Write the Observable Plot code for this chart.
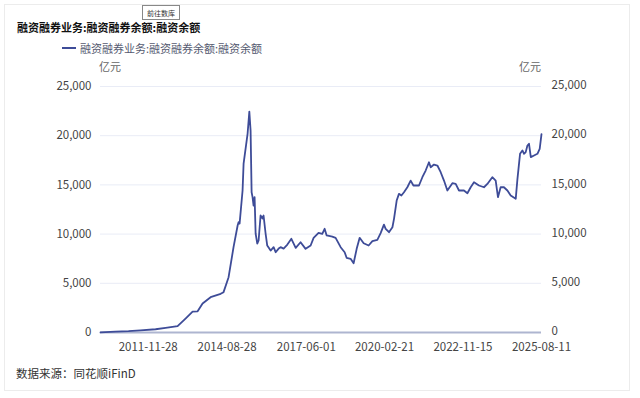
<!DOCTYPE html>
<html>
<head>
<meta charset="utf-8">
<script src="https://cdn.jsdelivr.net/npm/d3@7"></script>
<script src="https://cdn.jsdelivr.net/npm/@observablehq/plot@0.6"></script>
<style>
  html, body { margin: 0; padding: 0; background: #fff; }
  body { width: 640px; height: 398px; position: relative; overflow: hidden;
         font-family: "Noto Sans CJK SC", "Noto Sans", sans-serif; }
  .abs { position: absolute; white-space: nowrap; }
  #frame { position: absolute; left: 4px; top: 4px; width: 626px; height: 387px; border: 1px solid #ececec; box-sizing: border-box; }
  #btn { left: 142px; top: 5px; width: 38px; height: 15px; border: 1px solid #888; font-size: 7px; line-height: 14px; text-align: center; color: #333; box-sizing: border-box; background: #fff; }
  #title { left: 17px; top: 19px; font-size: 11px; font-weight: bold; color: #111; }
  #legend { left: 62px; top: 40px; font-size: 11px; color: #555a70; display: flex; align-items: center; }
  #legend .sw { display: inline-block; width: 14px; height: 2px; background: #3e4c98; margin-right: 4px; }
  .unit { top: 58px; font-size: 11px; color: #666; }
  #caption { left: 16px; top: 365px; font-size: 11.5px; color: #333; }
  #chart { position: absolute; left: 0; top: 70px; }
</style>
</head>
<body>
<div id="frame"></div>
<div id="btn" class="abs">前往数库</div>
<div id="title" class="abs">融资融券业务:融资融券余额:融资余额</div>
<div id="legend" class="abs"><span class="sw"></span>融资融券业务:融资融券余额:融资余额</div>
<div class="abs unit" style="left:99px;">亿元</div>
<div class="abs unit" style="left:519px;">亿元</div>
<div id="chart"></div>
<div id="caption" class="abs">数据来源：同花顺iFinD</div>
<script>
const dates = [
  "2010-03-31","2010-10-08","2011-03-23","2011-08-22","2012-03-01","2012-07-06","2012-12-06",
  "2013-03-17","2013-06-15","2013-08-18","2013-10-20","2014-01-30","2014-06-07","2014-07-14",
  "2014-09-16","2014-11-18","2015-01-09","2015-01-21","2015-02-03","2015-03-13","2015-03-26",
  "2015-05-16","2015-06-07","2015-06-23","2015-07-06","2015-07-18","2015-07-31","2015-08-13",
  "2015-08-26","2015-09-16","2015-10-03","2015-10-28","2015-11-22","2015-12-05","2015-12-31",
  "2016-01-21","2016-03-04","2016-04-11","2016-05-07","2016-06-14","2016-07-09","2016-08-16",
  "2016-10-03","2016-11-23","2017-01-17","2017-03-20","2017-05-23","2017-07-26","2017-09-02",
  "2017-11-04","2017-12-21","2018-01-20","2018-02-15","2018-04-28","2018-06-09","2018-08-12",
  "2018-10-02","2018-10-27","2018-12-17","2019-01-24","2019-03-04","2019-04-11","2019-06-01",
  "2019-08-03","2019-09-20","2019-11-22","2020-01-03","2020-02-14","2020-03-07","2020-04-18",
  "2020-06-01","2020-06-21","2020-07-25","2020-08-23","2020-09-23","2020-10-26","2020-12-08",
  "2021-01-19","2021-02-23","2021-05-05","2021-06-17","2021-07-29","2021-09-09","2021-10-01",
  "2021-11-12","2021-12-25","2022-02-05","2022-03-19","2022-05-01","2022-07-04","2022-08-15",
  "2022-09-26","2022-11-28","2023-01-11","2023-02-22","2023-04-05","2023-06-07","2023-08-10",
  "2023-09-22","2023-11-24","2024-01-06","2024-02-04","2024-03-09","2024-04-20","2024-06-03",
  "2024-07-15","2024-09-17","2024-10-09","2024-11-11","2024-12-11","2025-01-01","2025-01-22",
  "2025-02-13","2025-03-05","2025-03-28","2025-05-08","2025-06-20","2025-07-19","2025-08-11"
];
const values = [
  5, 80, 130, 220, 330, 470, 650,
  1420, 2130, 2150, 2950, 3590, 3930, 4100,
  5620, 8670, 10870, 11200, 11070, 14430, 17170,
  20220, 22450, 20520, 14250, 13750, 12900, 13750,
  10060, 9040, 9350, 11890, 11580, 11890, 10060,
  8840, 8330, 8670, 8160, 8530, 8670, 8530,
  8940, 9520, 8600, 9170, 8500, 8840, 9620,
  10130, 10030, 10540, 9860, 9750, 9620, 8670,
  8160, 7590, 7490, 7040, 8500, 9620, 9070,
  8840, 9280, 9420, 10100, 10970, 10540, 10190,
  10700, 11550, 13410, 14090, 13920, 14250, 14760,
  15440, 14940, 14940, 15780, 16460, 17300, 16790,
  17070, 16970, 16290, 15440, 14430, 15170, 15100,
  14430, 14430, 14150, 14760, 15270, 14940, 14760,
  15100, 15780, 15440, 13750, 14760, 14760, 14430,
  13920, 13580, 15610, 18160, 18500, 18160, 18330,
  19000, 19180, 17820, 17990, 18160, 18670, 20150
];
const xTickLabels = ["2011-11-28","2014-08-28","2017-06-01","2020-02-21","2022-11-15","2025-08-11"];
const yTicks = [0, 5000, 10000, 15000, 20000, 25000];
const xDomain = ["2010-03-31", "2025-08-11"];

const parse = d3.utcParse("%Y-%m-%d");
const data = dates.map((d, i) => ({date: parse(d), value: values[i]}));
const fmtDate = d3.utcFormat("%Y-%m-%d");
const fmtNum = d3.format(",");

const chart = Plot.plot({
  width: 640,
  height: 290,
  marginLeft: 100,
  marginRight: 99,
  marginTop: 16,
  marginBottom: 28,
  style: {fontFamily: "'Noto Sans CJK SC', 'Noto Sans', sans-serif", fontSize: "11.5px", color: "#444", background: "transparent"},
  x: {type: "utc", domain: xDomain.map(parse), ticks: xTickLabels.map(parse), tickFormat: fmtDate, tickSize: 0, tickPadding: 10, label: null},
  y: {domain: [0, 25000], ticks: yTicks, tickFormat: fmtNum, label: null},
  marks: [
    Plot.gridY(yTicks, {stroke: "#e9ecf6", strokeOpacity: 1, strokeWidth: 1}),
    Plot.axisY({anchor: "left", ticks: yTicks, tickFormat: fmtNum, tickSize: 0, tickPadding: 9, label: null, fill: "#444"}),
    Plot.axisY({anchor: "right", ticks: yTicks, tickFormat: fmtNum, tickSize: 0, tickPadding: 10, dy: -1, label: null, fill: "#444"}),
    Plot.axisX({ticks: xTickLabels.map(parse), tickFormat: fmtDate, tickSize: 0, tickPadding: 10, label: null, fill: "#444"}),
    Plot.ruleY([0], {stroke: "#aeb5d0", strokeWidth: 2}),
    Plot.lineY(data, {x: "date", y: "value", stroke: "#3e4c98", strokeWidth: 1.8})
  ]
});
document.getElementById("chart").appendChild(chart);
</script>
</body>
</html>
